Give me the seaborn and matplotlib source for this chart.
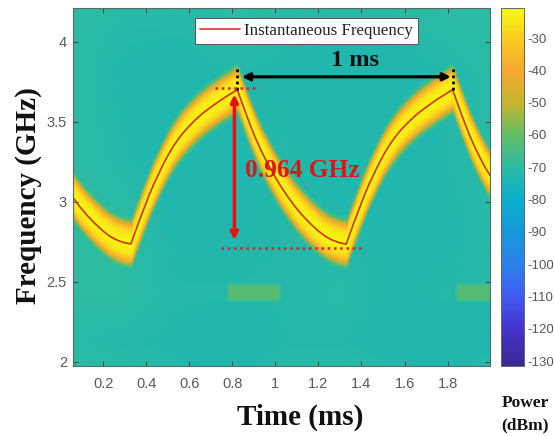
import numpy as np
import matplotlib
matplotlib.use("Agg")
import matplotlib.pyplot as plt
from matplotlib.colors import LinearSegmentedColormap
from matplotlib.ticker import FuncFormatter
import seaborn as sns

# frecuencia instantanea
tiempo = [0.058, 0.093, 0.124, 0.16, 0.201, 0.232, 0.264, 0.296, 0.329,
          0.364, 0.388, 0.411, 0.434, 0.457, 0.48, 0.504, 0.527, 0.55, 0.573, 0.597,
          0.628, 0.659, 0.69, 0.721, 0.748, 0.775, 0.80, 0.823,
          0.86, 0.883, 0.907, 0.93, 0.953, 0.976, 1.0, 1.03, 1.062, 1.093, 1.124,
          1.16, 1.201, 1.232, 1.264, 1.296, 1.329,
          1.364, 1.388, 1.411, 1.434, 1.457, 1.48, 1.504, 1.527, 1.55, 1.573, 1.597,
          1.628, 1.659, 1.69, 1.721, 1.748, 1.775, 1.80, 1.823,
          1.86, 1.883, 1.907, 1.93, 1.953, 1.976, 1.997]
frecuencia = [3.03, 2.967, 2.917, 2.866, 2.815, 2.783, 2.76, 2.744, 2.736,
              2.865, 2.95, 3.03, 3.105, 3.17, 3.235, 3.296, 3.347, 3.392, 3.432, 3.468,
              3.51, 3.548, 3.58, 3.61, 3.636, 3.659, 3.68, 3.70,
              3.5625, 3.48, 3.40, 3.33, 3.268, 3.21, 3.152, 3.086, 3.023, 2.967, 2.917,
              2.866, 2.815, 2.783, 2.76, 2.744, 2.734,
              2.865, 2.95, 3.03, 3.105, 3.17, 3.235, 3.296, 3.347, 3.392, 3.432, 3.468,
              3.51, 3.548, 3.58, 3.61, 3.636, 3.659, 3.68, 3.70,
              3.5625, 3.48, 3.40, 3.33, 3.268, 3.21, 3.165]

# perfil de potencia alrededor de la traza
perfil_df = [0.0, 0.05, 0.08, 0.10, 0.115, 0.13, 0.15, 0.175]
perfil_db = [-22, -24, -28, -34, -42, -53, -65, -73]

# fondo (dBm), filas de 2 a 4.2 GHz, columnas de 0.06 a 2 ms
fondo_t = [0.06, 0.3, 0.55, 0.8, 1.05, 1.3, 1.55, 1.8, 2.0]
fondo_f = [1.97, 2.12, 2.4, 2.8, 3.3, 3.8, 4.21]
fondo_db = [
    [-70, -71, -72, -73, -71, -71, -72, -73, -71],
    [-71, -72, -73, -76, -72, -72, -74, -76, -73],
    [-70, -70, -72, -72, -72, -71, -73, -72, -72],
    [-70, -70, -73, -73, -72, -72, -73, -73, -71],
    [-70, -72, -75, -73, -72, -74, -75, -72, -71],
    [-70, -73, -74, -72, -73, -75, -74, -72, -71],
    [-70, -71, -71, -70, -71, -71, -71, -70, -70],
]

# espurios cerca de 2.43 GHz
espurio_ini = [0.767, 1.83]
espurio_fin = [1.03, 2.05]
espurio_f = 2.43
espurio_db = -62

x_ticks = [0.2, 0.4, 0.6, 0.8, 1, 1.2, 1.4, 1.6, 1.8]
y_ticks = [2, 2.5, 3, 3.5, 4]
cb_ticks = [-30, -40, -50, -60, -70, -80, -90, -100, -110, -120, -130]

# colores de la barra por nivel
niveles = [-131.5, -120, -110, -100, -90, -80, -70, -60, -50, -40, -30, -20.7]
colores = ["#3a2a92", "#4433cc", "#3f5cf2", "#2a82ea", "#1598d8", "#09aecb", "#2cbba3",
           "#62be68", "#c6b42e", "#f6a832", "#f9cc20", "#f8fb12"]
VMIN, VMAX = niveles[0], niveles[-1]
cmap = LinearSegmentedColormap.from_list(
    "parula", [((n - VMIN) / (VMAX - VMIN), c) for n, c in zip(niveles, colores)])

sns.set_theme(style="ticks")
plt.rcParams["font.family"] = ["Liberation Sans", "DejaVu Sans"]
SERIF = "Liberation Serif"
GRIS = "#595959"

fig = plt.figure(figsize=(5.54, 4.36), dpi=100)
ax = fig.add_axes([72.5 / 554, 70 / 436, 417.5 / 554, 358 / 436])
cax = fig.add_axes([501 / 554, 70 / 436, 22.7 / 554, 358 / 436])

# construir la malla de potencia
tt = np.linspace(0.058, 1.997, 700)
ff = np.linspace(1.973, 4.21, 500)
T, F = np.meshgrid(tt, ff)
cols = np.array([np.interp(tt, fondo_t, fila) for fila in fondo_db])
fondo = np.array([np.interp(ff, fondo_f, cols[:, j]) for j in range(len(tt))]).T
for ini, fin in zip(espurio_ini, espurio_fin):
    borde_t = np.clip(np.minimum(T - ini, fin - T) / 0.02, 0, 1)
    borde_f = np.clip((0.065 - np.abs(F - espurio_f)) / 0.03, 0, 1)
    fondo = fondo + (espurio_db - fondo) * borde_t * borde_f
traza = np.interp(tt, tiempo, frecuencia)
banda = np.interp(np.abs(F - traza[None, :]), perfil_df, perfil_db)
potencia = np.maximum(fondo, banda)

im = ax.imshow(potencia, origin="lower", aspect="auto", cmap=cmap, vmin=VMIN, vmax=VMAX,
               extent=[0.058, 1.997, 1.973, 4.21], interpolation="bilinear")

sns.lineplot(x=tiempo, y=frecuencia, ax=ax, color="#d2300f", lw=1.2, sort=False,
             estimator=None, legend=False)

ax.set_xlim(0.058, 1.997)
ax.set_ylim(1.973, 4.21)
ax.set_xticks(x_ticks, ["0.2", "0.4", "0.6", "0.8", "1", "1.2", "1.4", "1.6", "1.8"])
ax.set_yticks(y_ticks, ["2", "2.5", "3", "3.5", "4"])
ax.tick_params(direction="in", top=True, right=True, length=3.5, width=0.7, color="#444444",
               labelsize=10.5, labelcolor=GRIS)
ax.tick_params(axis="x", pad=8)
ax.tick_params(axis="y", pad=4)
for s in ax.spines.values():
    s.set_color("#5a6a66")
    s.set_linewidth(0.8)

# leyenda
linea = plt.Line2D([], [], color="#e8403a", lw=1.3)
leg = ax.legend([linea], ["Instantaneous Frequency"], loc="upper left",
                bbox_to_anchor=(0.2925, 0.972), borderaxespad=0, fancybox=False, framealpha=1,
                edgecolor="#555555", facecolor="white", handlelength=2.4, handletextpad=0.24,
                borderpad=0.3, prop={"family": SERIF, "size": 12.2})
leg.get_frame().set_linewidth(0.7)
for t_ in leg.get_texts():
    t_.set_color("#222222")

# anotaciones
ax.plot([0.823, 0.823], [3.70, 3.85], color="black", ls=(0, (1, 1.2)), lw=2)
ax.plot([1.823, 1.823], [3.70, 3.85], color="black", ls=(0, (1, 1.2)), lw=2)
ax.annotate("", xy=(0.845, 3.78), xytext=(1.815, 3.78),
            arrowprops=dict(arrowstyle="<|-|>", color="black", lw=2.3, shrinkA=0, shrinkB=0, mutation_scale=11))
ax.text(1.372, 3.885, "1 ms", family=SERIF, weight="bold", size=17.5, color="#111111", ha="center", va="center")
ax.plot([0.72, 0.91], [3.71, 3.71], color="#d8202a", ls=(0, (1, 1.5)), lw=1.8)
ax.plot([0.75, 1.4], [2.71, 2.71], color="#d8202a", ls=(0, (1, 1.5)), lw=1.8)
ax.annotate("", xy=(0.81, 3.67), xytext=(0.81, 2.76),
            arrowprops=dict(arrowstyle="<|-|>", color="#e81010", lw=2.5, shrinkA=0, shrinkB=0, mutation_scale=11))
ax.text(0.86, 3.195, "0.964 GHz", family=SERIF, weight="bold", size=18.4, color="#d81818", ha="left", va="center")

# barra de color
cb = fig.colorbar(im, cax=cax)
cb.set_ticks(cb_ticks)
cb.ax.tick_params(direction="in", length=3, width=0.7, color="#444444", labelsize=9.5, labelcolor=GRIS, pad=3)
cb.outline.set_edgecolor("#5a6a66")
cb.outline.set_linewidth(0.7)
cb.ax.yaxis.set_major_formatter(FuncFormatter(lambda v, _: f"{v:.0f}"))

fig.text(29 / 554, 1 - 196 / 436, "Frequency (GHz)", family=SERIF, weight="bold", size=21,
         rotation=90, ha="center", va="center", color="#111111")
fig.text(300 / 554, 1 - 417 / 436, "Time (ms)", family=SERIF, weight="bold", size=21,
         ha="center", va="center", color="#111111")
fig.text(525 / 554, 1 - 403 / 436, "Power", family=SERIF, weight="bold", size=12.5, ha="center", va="center", color="#111111")
fig.text(525 / 554, 1 - 425 / 436, "(dBm)", family=SERIF, weight="bold", size=12.5, ha="center", va="center", color="#111111")

fig.savefig("out.png", dpi=100)
